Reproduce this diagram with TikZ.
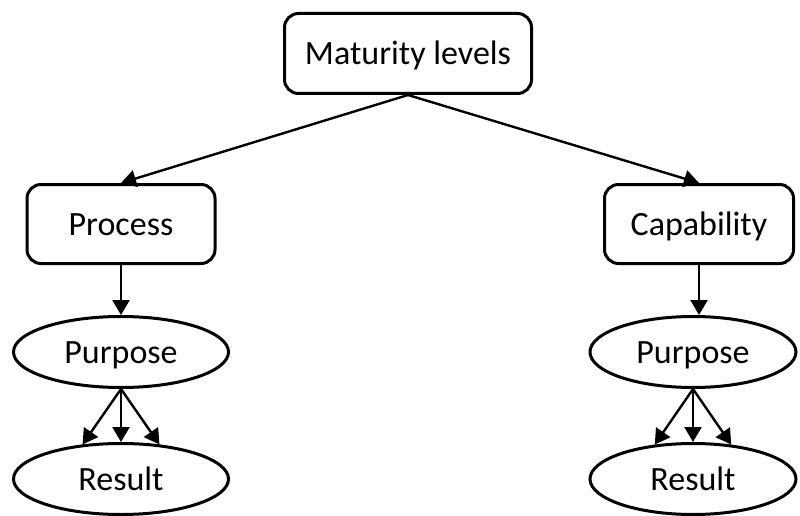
\documentclass[tikz,border=0pt]{standalone}
\usepackage{fontspec}
\setmainfont{Carlito}
\usetikzlibrary{arrows.meta,shapes.geometric}
\begin{document}
\begin{tikzpicture}[x=1pt,y=-1pt,
  every node/.style={font=\fontsize{34}{40}\selectfont, inner sep=0pt, line width=3pt, draw=black,
    text height=22pt, text depth=0pt},
  levelbox/.style={rectangle, rounded corners=14pt},
  oval/.style={ellipse, minimum width=215pt, minimum height=71pt},
  link/.style={line width=2.4pt, -{Triangle[length=15pt,width=17pt]}}]
  \useasboundingbox (0,0) rectangle (800,516);

  \node[levelbox, minimum width=247pt, minimum height=80pt] (mat) at (408,53.5) {Maturity levels};
  \node[levelbox, minimum width=188pt, minimum height=79pt] (proc) at (121,224) {Process};
  \node[levelbox, minimum width=189pt, minimum height=79pt] (cap) at (699,224) {Capability};

  \node[oval] (pl) at (121,352) {Purpose};
  \node[oval] (rl) at (121,479) {Result};
  \node[oval, minimum width=206pt] (pr) at (693,352) {Purpose};
  \node[oval, minimum width=206pt] (rr) at (693,479) {Result};

  \draw[link] (mat.south) -- (proc.north);
  \draw[link] (mat.south) -- (cap.north);
  \draw[link] (proc.south) -- (pl.north);
  \draw[link] (cap.south) -- (cap.south |- pr.north);

  \draw[link] (pl.south) -- (rl.138);
  \draw[link] (pl.south) -- (rl.north);
  \draw[link] (pl.south) -- (rl.42);
  \draw[link] (pr.south) -- (rr.138);
  \draw[link] (pr.south) -- (rr.north);
  \draw[link] (pr.south) -- (rr.42);
\end{tikzpicture}
\end{document}
